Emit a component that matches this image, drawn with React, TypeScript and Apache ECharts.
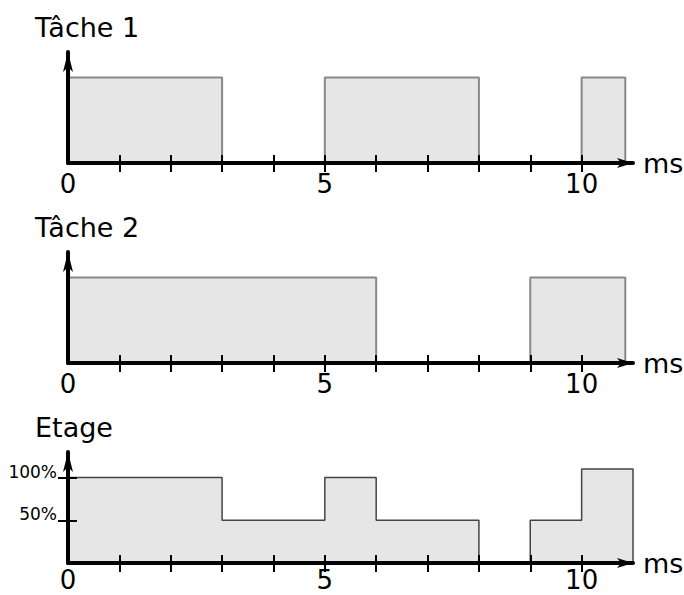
import React, { useEffect, useRef } from "react";
import * as echarts from "echarts";

const FONT = "DejaVu Sans";

const panelTitles = ["Tâche 1", "Tâche 2", "Etage"];
const xTickValues = [1, 2, 3, 4, 5, 6, 7, 8, 9, 10];
const xLabelValues = [0, 5, 10];
const yLabelValues = [0.5, 1];

// busy intervals [start, end] in ms
const task1Busy = [[0, 3], [5, 8], [10, 10.85]];
const task2Busy = [[0, 6], [9, 10.85]];
// stage load (fraction) starting at each time
const stageTimes = [0, 3, 5, 6, 8, 9, 10, 11];
const stageLoad = [1, 0.5, 1, 0.5, 0, 0.5, 1.1, 0];

function busyToSteps(busy: number[][]) {
  const pts: number[][] = [];
  busy.forEach(([s, e]) => {
    pts.push([s, 1]);
    pts.push([e, 0]);
  });
  return pts;
}

export default function App() {
  const ref = useRef<HTMLDivElement>(null);
  useEffect(() => {
    if (!ref.current) return;
    const chart = echarts.init(ref.current, null, { renderer: "svg" });
    const GRID_TOP = 52;
    const GRID_H = 111;
    const Y_MAX = 1.3;
    const grids = [0, 1, 2].map((p) => ({
      left: 68,
      width: 565,
      top: GRID_TOP + 200 * p,
      height: GRID_H,
      containLabel: false,
      outerBoundsMode: "none",
    }));
    const axisLineStyle = { color: "#000", width: 4 };
    const xMain = [0, 1, 2].map((g) => ({
      type: "value",
      gridIndex: g,
      min: 0,
      max: 11,
      position: "bottom",
      z: 10,
      axisLine: {
        show: true,
        onZero: false,
        symbol: ["none", "arrow"],
        symbolSize: [7.5, 16],
        lineStyle: axisLineStyle,
      },
      axisTick: {
        show: true,
        inside: false,
        length: 9,
        customValues: xTickValues,
        lineStyle: { color: "#000", width: 2 },
      },
      axisLabel: {
        show: true,
        customValues: xLabelValues,
        margin: g === 2 ? 7 : 11,
        lineHeight: 20,
        fontSize: 26,
        fontFamily: FONT,
        color: "#000",
      },
      splitLine: { show: false },
      name: "ms",
      nameLocation: "end",
      nameGap: 10,
      nameTextStyle: { fontSize: 27, fontFamily: FONT, color: "#000" },
    }));
    const xInner = [0, 1, 2].map((g) => ({
      type: "value",
      gridIndex: g,
      min: 0,
      max: 11,
      position: "bottom",
      z: 10,
      axisLine: { show: false },
      axisTick: {
        show: true,
        inside: true,
        length: 8,
        customValues: xTickValues,
        lineStyle: { color: "#000", width: 2 },
      },
      axisLabel: { show: false },
      splitLine: { show: false },
    }));
    const yMain = [0, 1, 2].map((g) => ({
      type: "value",
      gridIndex: g,
      min: 0,
      max: Y_MAX,
      position: "left",
      z: 10,
      axisLine: {
        show: true,
        onZero: false,
        symbol: ["none", "arrow"],
        symbolSize: [7.5, 20],
        lineStyle: axisLineStyle,
      },
      axisTick: {
        show: g === 2,
        inside: false,
        length: 10,
        customValues: yLabelValues,
        lineStyle: { color: "#000", width: 2 },
      },
      axisLabel: {
        show: g === 2,
        customValues: yLabelValues,
        margin: 11,
        fontSize: 17,
        fontFamily: FONT,
        color: "#000",
        verticalAlign: "bottom",
        lineHeight: 12,
        formatter: (v: number) => Math.round(v * 100) + "%",
      },
      splitLine: { show: false },
    }));
    const yInner = {
      type: "value",
      gridIndex: 2,
      min: 0,
      max: Y_MAX,
      position: "left",
      z: 10,
      axisLine: { show: false },
      axisTick: {
        show: true,
        inside: true,
        length: 9,
        customValues: yLabelValues,
        lineStyle: { color: "#000", width: 2 },
      },
      axisLabel: { show: false },
      splitLine: { show: false },
    };
    const stageSteps = stageTimes.map((t, i) => [t, stageLoad[i]]);
    const mkSeries = (data: number[][], idx: number, lineColor: string, lw: number) => ({
      type: "line",
      xAxisIndex: idx,
      yAxisIndex: idx,
      data,
      step: "end",
      symbol: "none",
      showSymbol: false,
      z: 2,
      lineStyle: { color: lineColor, width: lw },
      areaStyle: { color: "#e6e6e6", opacity: 1 },
    });
    chart.setOption({
      animation: false,
      grid: grids,
      xAxis: [...xMain, ...xInner],
      yAxis: [...yMain, yInner],
      series: [
        mkSeries(busyToSteps(task1Busy), 0, "#888888", 2),
        mkSeries(busyToSteps(task2Busy), 1, "#888888", 2),
        mkSeries(stageSteps, 2, "#444444", 1.5),
      ],
      graphic: panelTitles.map((t, p) => ({
        type: "text",
        x: 35,
        y: 27 + 200 * p,
        style: {
          text: t,
          fontSize: 27,
          fontFamily: FONT,
          fill: "#000",
          verticalAlign: "middle",
        },
      })),
    });
    return () => chart.dispose();
  }, []);
  return (
    <div
      ref={ref}
      style={{ position: "fixed", left: 0, top: 0, width: 684, height: 595, background: "#fff" }}
    />
  );
}
